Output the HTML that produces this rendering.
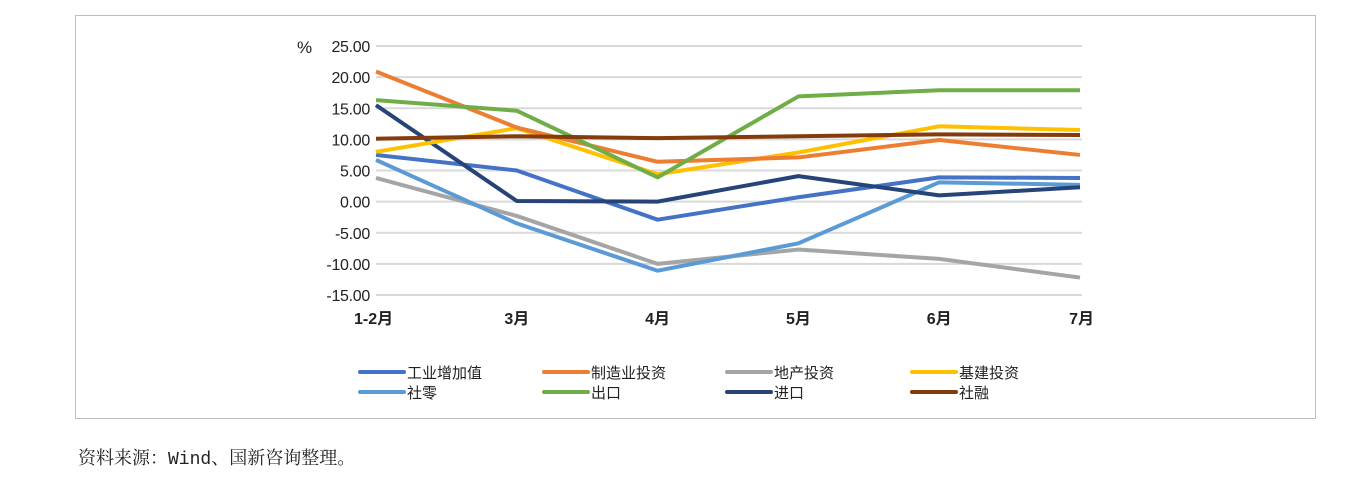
<!DOCTYPE html>
<html><head><meta charset="utf-8"><style>
body{margin:0;background:#fff;width:1368px;height:479px;overflow:hidden;font-family:"Liberation Sans","Noto Sans CJK SC",sans-serif}
</style></head><body>
<svg width="1368" height="479" style="position:absolute;left:0;top:0">
<rect x="75.5" y="15.5" width="1240" height="403" fill="none" stroke="#bdbdbd"/>
<g id="grid"></g><g id="series"></g><g id="legend"></g>
<text x="297" y="53" font-size="17" fill="#222">%</text>
<text x="78" y="464" font-size="18" fill="#222" font-family="'Liberation Mono','Noto Serif CJK SC',monospace">资料来源：Wind、国新咨询整理。</text>
</svg>
<script>
const categories=["1-2月","3月","4月","5月","6月","7月"];
const yTicks=[25,20,15,10,5,0,-5,-10,-15];
const names=["工业增加值","制造业投资","地产投资","基建投资","社零","出口","进口","社融"];
const colors=["#4472c4","#ed7d31","#a5a5a5","#ffc000","#5b9bd5","#70ad47","#264478","#843c0c"];
const s0=[7.5,5.0,-2.9,0.7,3.9,3.8];
const s1=[20.9,11.9,6.4,7.1,9.9,7.5];
const s2=[3.8,-2.3,-10.0,-7.7,-9.2,-12.2];
const s3=[8.0,11.8,4.4,7.9,12.1,11.5];
const s4=[6.7,-3.5,-11.1,-6.7,3.1,2.7];
const s5=[16.3,14.6,3.9,16.9,17.9,17.9];
const s6=[15.5,0.1,0.0,4.1,1.0,2.3];
const s7=[10.1,10.5,10.2,10.5,10.8,10.7];
const series=[s0,s1,s2,s3,s4,s5,s6,s7];
const NS="http://www.w3.org/2000/svg";
const x=i=>376+i*(1080-376)/(categories.length-1);
const y=v=>46+(25-v)*(295-46)/40;
function mk(t,a,p){const e=document.createElementNS(NS,t);for(const k in a)e.setAttribute(k,a[k]);p.appendChild(e);return e;}
const g=document.getElementById('grid');
yTicks.forEach(v=>{
 const l=mk('line',{x1:376,x2:1082,y1:y(v),y2:y(v),stroke:'#d9d9d9','stroke-width':2},g);
 
 
 const t=mk('text',{x:370,y:y(v)+6,'text-anchor':'end','font-size':16,fill:'#222','letter-spacing':'-0.3'},g);
 t.textContent=v.toFixed(2);
 
 
});
categories.forEach((c,i)=>{
 const t=mk('text',{x:x(i),y:324,'text-anchor':i==0?'start':(i==categories.length-1?'end':'middle'),'font-size':16,'font-weight':'bold',fill:'#222'},g);
 if(i==0)t.setAttribute('x',x(i)-22);
 if(i==categories.length-1)t.setAttribute('x',x(i)+14);
 t.textContent=c;
 
 
});
const sg=document.getElementById('series');
const order=[2,4,0,6,3,1,5,7];
order.forEach(k=>{
 const p=mk('polyline',{points:series[k].map((v,i)=>x(i)+','+y(v)).join(' '),fill:'none',stroke:colors[k],'stroke-width':4,'stroke-linejoin':'round'},sg);
 
 
});
const lg=document.getElementById('legend');
const lx=[360,544,727,912];
names.forEach((n,k)=>{
 const cx=lx[k%4],cy=k<4?372:392;
 const l=mk('line',{x1:cx,x2:cx+44,y1:cy,y2:cy,stroke:colors[k],'stroke-width':4,'stroke-linecap':'round'},lg);
 
 
 const t=mk('text',{x:cx+47,y:cy+6,'font-size':15,fill:'#222'},lg);
 t.textContent=n;
 
 
});
</script>
</body></html>
